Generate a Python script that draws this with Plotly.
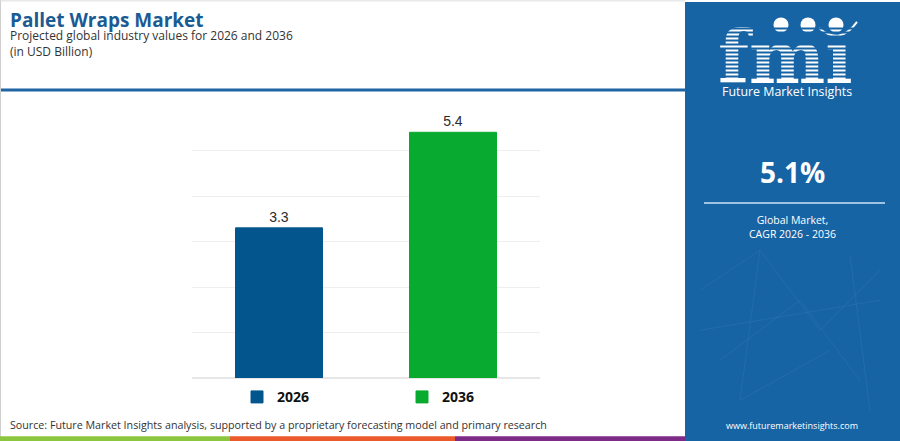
import plotly.graph_objects as go

# chart data
years = ["2026", "2036"]
values = [3.3, 5.4]
bar_colors = ["#03568d", "#08aa2f"]
value_labels = ["3.3", "5.4"]

cagr_text = "5.1%"
title_text = "Pallet Wraps Market"
subtitle_text = "Projected global industry values for 2026 and 2036<br>(in USD Billion)"
source_text = "Source: Future Market Insights analysis, supported by a proprietary forecasting model and primary research"

W, H = 900, 441
# plot area in pixels
L, R, T, B = 192, 540, 105, 377.7


def px(x):
    return (x - L) / (R - L)


def py(y):
    return (B - y) / (B - T)


PANEL = "#1764a5"
font = "Open Sans"

fig = go.Figure()

for yr, v, c, lab in zip(years, values, bar_colors, value_labels):
    fig.add_trace(go.Bar(
        x=[yr], y=[v], name=yr,
        marker=dict(color=c, line=dict(color=c, width=1)),
        text=[lab], textposition="outside",
        textfont=dict(family="Liberation Sans, Arial", size=14, color="#2b2b2b"),
        cliponaxis=False,
        hoverinfo="x+y",
    ))

shapes = []
# right blue panel
shapes.append(dict(type="rect", xref="paper", yref="paper",
                   x0=px(685), x1=px(900), y0=py(441), y1=py(2),
                   fillcolor=PANEL, line=dict(width=0), layer="below"))
# header rule
shapes.append(dict(type="line", xref="paper", yref="paper",
                   x0=px(0), x1=px(685), y0=py(90), y1=py(90),
                   line=dict(color="#1f65a3", width=3)))
# thin frame
shapes.append(dict(type="line", xref="paper", yref="paper",
                   x0=px(0.5), x1=px(0.5), y0=py(441), y1=py(0),
                   line=dict(color="#cfcfcf", width=1)))
shapes.append(dict(type="line", xref="paper", yref="paper",
                   x0=px(0), x1=px(685), y0=py(1), y1=py(1),
                   line=dict(color="#dcdcdc", width=1)))
# bottom colour bands
for x0, x1, col in [(0, 230, "#8cc63f"), (230, 455, "#ea5a2b"), (455, 685, "#7d2b86")]:
    shapes.append(dict(type="rect", xref="paper", yref="paper",
                       x0=px(x0), x1=px(x1), y0=py(441), y1=py(436),
                       fillcolor=col, line=dict(width=0)))
# divider under the CAGR figure
shapes.append(dict(type="line", xref="paper", yref="paper",
                   x0=px(704), x1=px(885), y0=py(203), y1=py(203),
                   line=dict(color="#9fc3e3", width=2)))
# faint network lines in the panel
net = [(700, 290, 760, 250), (760, 250, 820, 330), (820, 330, 880, 270),
       (720, 360, 800, 300), (800, 300, 860, 380), (740, 400, 830, 350),
       (760, 250, 740, 400), (850, 255, 870, 410), (700, 330, 880, 300)]
for x0, y0, x1, y1 in net:
    shapes.append(dict(type="line", xref="paper", yref="paper",
                       x0=px(x0), x1=px(x1), y0=py(y0), y1=py(y1),
                       line=dict(color="rgba(255,255,255,0.05)", width=1)))
# logo circles and arc
for cx in [781, 808, 836]:
    shapes.append(dict(type="circle", xref="paper", yref="paper",
                       x0=px(cx - 7.5), x1=px(cx + 7.5), y0=py(32.5), y1=py(17.5),
                       fillcolor="white", line=dict(width=0)))
shapes.append(dict(type="path", xref="paper", yref="paper",
                   path="M %f,%f Q %f,%f %f,%f" % (px(819), py(28), px(840), py(46), px(857), py(22)),
                   line=dict(color="white", width=2)))

annotations = [
    dict(text="<b>" + title_text + "</b>", x=px(8), y=py(20), xanchor="left", yanchor="middle",
         font=dict(family=font, size=19, color="#1a5b94")),
    dict(text=subtitle_text, x=px(8), y=py(25), xanchor="left", yanchor="top", align="left",
         font=dict(family=font, size=12, color="#333333")),
    dict(text=source_text, x=px(8), y=py(425), xanchor="left", yanchor="middle",
         font=dict(family=font, size=10.7, color="#333333")),
    dict(text="<b>fmı</b>", x=px(785), y=py(102), xanchor="center", yanchor="bottom",
         font=dict(family="DejaVu Serif", size=72, color="white")),
]
# stripes across the logo letters (annotations so they sit above the glyphs)
for yy in range(29, 81, 4):
    annotations.append(dict(text=" ", x=px(785), y=py(yy), xanchor="center", yanchor="middle",
                            width=140, height=1, bgcolor=PANEL, borderpad=0,
                            font=dict(size=1, color=PANEL)))
annotations += [
    dict(text="Future Market Insights", x=px(787), y=py(92), xanchor="center", yanchor="middle",
         font=dict(family=font, size=12.4, color="white")),
    dict(text="<b>" + cagr_text + "</b>", x=px(792), y=py(172), xanchor="center", yanchor="middle",
         font=dict(family=font, size=28, color="white")),
    dict(text="Global Market,<br>CAGR 2026 - 2036", x=px(792), y=py(227), xanchor="center",
         yanchor="middle", font=dict(family=font, size=10.5, color="white")),
    dict(text="www.futuremarketinsights.com", x=px(792), y=py(425), xanchor="center",
         yanchor="middle", font=dict(family=font, size=9, color="white")),
]
for a in annotations:
    a.update(xref="paper", yref="paper", showarrow=False)

fig.update_layout(
    width=W, height=H,
    margin=dict(l=L, r=W - R, t=T, b=H - B, pad=0),
    paper_bgcolor="white", plot_bgcolor="white",
    barmode="overlay", bargap=0.5,
    showlegend=True,
    legend=dict(orientation="h", x=px(402), xanchor="center", y=py(397), yanchor="middle",
                entrywidth=120, itemwidth=30,
                font=dict(family=font, size=14, color="#111111", weight=700)),
    xaxis=dict(showticklabels=False, showgrid=False, zeroline=False, showline=False,
               categoryorder="array", categoryarray=years),
    yaxis=dict(range=[0, 6], dtick=1, showticklabels=False, gridcolor="#eeeeee",
               gridwidth=1, zeroline=True, zerolinecolor="#e6e6e6", showline=False),
    shapes=shapes,
    annotations=annotations,
)

fig.write_html("out.html", config={"displayModeBar": False},
               post_script="document.body.style.margin='0';")
